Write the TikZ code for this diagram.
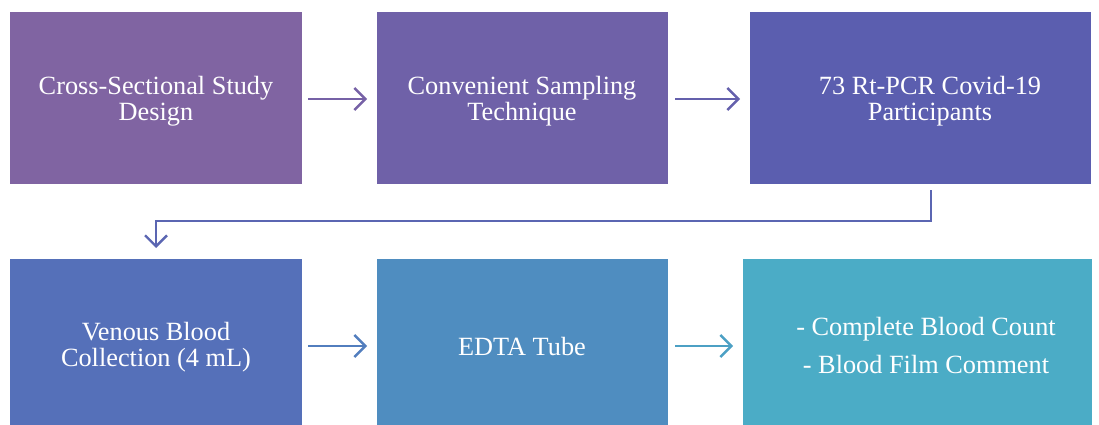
\documentclass[tikz,border=0pt]{standalone}
\usepackage{fontspec}
\setmainfont{Liberation Serif}
\usetikzlibrary{arrows.meta}
\definecolor{cA}{RGB}{128,100,162}
\definecolor{cB}{RGB}{111,97,168}
\definecolor{cC}{RGB}{91,94,175}
\definecolor{cD}{RGB}{85,112,185}
\definecolor{cE}{RGB}{79,141,192}
\definecolor{cF}{RGB}{75,172,198}
\definecolor{aA}{RGB}{118,97,166}
\definecolor{aB}{RGB}{100,96,172}
\definecolor{aC}{RGB}{91,102,178}
\definecolor{aD}{RGB}{82,126,190}
\definecolor{aE}{RGB}{76,160,196}
\tikzset{
  stepbox/.style={rectangle, inner sep=0pt, text=white, align=center,
    font=\fontsize{26.3}{26.5}\selectfont},
  flow/.style={line width=2.6pt, -{Straight Barb[length=11pt, width=22pt, line width=2.4pt]}},
}
\begin{document}
\begin{tikzpicture}[x=1pt, y=-1pt]
\useasboundingbox (0,0) rectangle (1099,425);
% boxes of the first row
\fill[cA] (10,12) rectangle (302,184);
\fill[cB] (377,12) rectangle (668,184);
\fill[cC] (750,12) rectangle (1091,184);
% boxes of the second row
\fill[cD] (10,259) rectangle (302,425);
\fill[cE] (377,259) rectangle (668,425);
\fill[cF] (743,259) rectangle (1092,425);
% labels
\node[stepbox] (n1) at (156,101) {Cross-Sectional Study\\Design};
\node[stepbox] (n2) at (522,101) {Convenient Sampling\\Technique};
\node[stepbox] (n3) at (930,101) {73 Rt-PCR Covid-19\\Participants};
\node[stepbox] (n4) at (156,347) {Venous Blood\\Collection (4 mL)};
\node[stepbox] (n5) at (522,347) {EDTA Tube};
\node[stepbox, font=\fontsize{26.3}{38}\selectfont] (n6) at (926,346) {- Complete Blood Count\\- Blood Film Comment};
% connector anchors
\coordinate (a1s) at (308,99);  \coordinate (a1e) at (367,99);
\coordinate (a2s) at (675,99);  \coordinate (a2e) at (740,99);
\coordinate (a4s) at (308,346); \coordinate (a4e) at (367,346);
\coordinate (a5s) at (675,346); \coordinate (a5e) at (733,346);
\coordinate (es) at (931,190);  \coordinate (ee) at (156,248);
% connectors
\draw[flow, aA] (a1s) -- (a1e);
\draw[flow, aB] (a2s) -- (a2e);
\draw[flow, aC] (es) |- (543,221) -| (ee);
\draw[flow, aD] (a4s) -- (a4e);
\draw[flow, aE] (a5s) -- (a5e);
\end{tikzpicture}
\end{document}
